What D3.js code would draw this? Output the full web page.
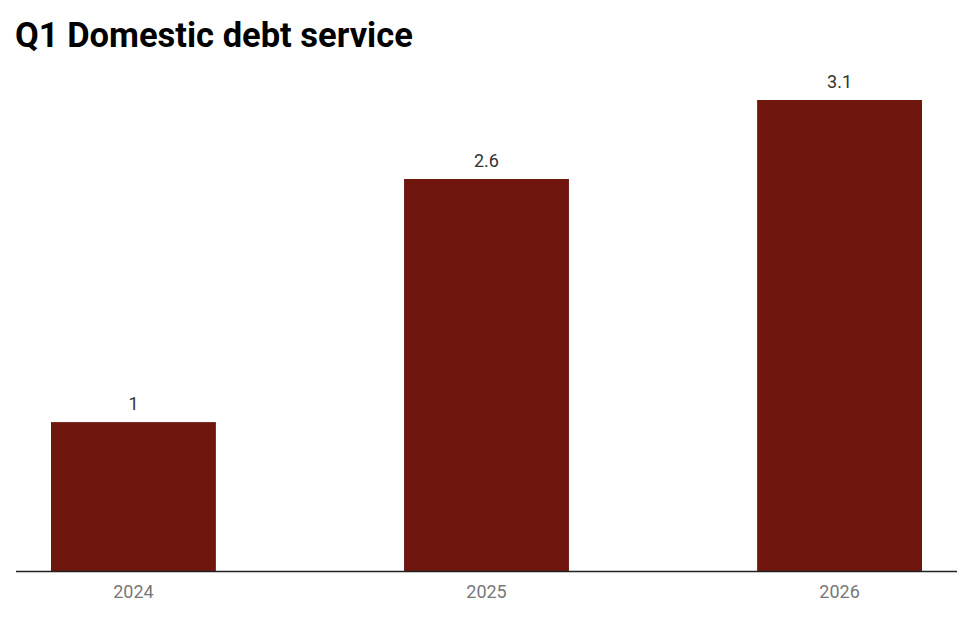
<!DOCTYPE html>
<html>
<head>
<meta charset="utf-8">
<script src="https://cdn.jsdelivr.net/npm/d3@7"></script>
<style>
  body { margin: 0; background: #fff; font-family: Roboto, sans-serif; }
  .title { font-weight: 700; font-size: 34.5px; fill: #000; }
  .val { font-size: 18px; fill: #333; }
  .xlab { font-size: 18px; fill: #777; }
</style>
</head>
<body>
<svg id="chart"></svg>
<script>
const years = ['2024', '2025', '2026']
const values = [0.98, 2.58, 3.1]

const width = 971
const height = 628

const svg = d3.select('#chart')
    .attr('width', width)
    .attr('height', height)

svg.append('text')
    .attr('class', 'title')
    .attr('x', 15)
    .attr('y', 47)
    .text('Q1 Domestic debt service')

const baseY = 571
const fmt = d3.format('.1~f')

const x = d3.scaleBand()
    .domain(years)
    .range([51, 922])
    .paddingInner(0.533)
    .paddingOuter(0)

const y = d3.scaleLinear()
    .domain([0, 3.1])
    .range([baseY, 100])

svg.selectAll('rect.bar')
    .data(values)
    .enter()
    .append('rect')
    .attr('class', 'bar')
    .attr('x', (d, i) => x(years[i]))
    .attr('y', d => y(d))
    .attr('width', x.bandwidth())
    .attr('height', d => baseY - y(d))
    .attr('fill', '#6f160f')

svg.selectAll('text.val')
    .data(values)
    .enter()
    .append('text')
    .attr('class', 'val')
    .attr('x', (d, i) => x(years[i]) + x.bandwidth() / 2)
    .attr('y', d => y(d) - 12)
    .attr('text-anchor', 'middle')
    .text(d => fmt(d))

svg.append('line')
    .attr('x1', 16)
    .attr('x2', 957)
    .attr('y1', baseY + 0.5)
    .attr('y2', baseY + 0.5)
    .attr('stroke', '#222')
    .attr('stroke-width', 1.5)

svg.selectAll('text.xlab')
    .data(years)
    .enter()
    .append('text')
    .attr('class', 'xlab')
    .attr('x', d => x(d) + x.bandwidth() / 2)
    .attr('y', 598)
    .attr('text-anchor', 'middle')
    .text(d => d)
</script>
</body>
</html>
